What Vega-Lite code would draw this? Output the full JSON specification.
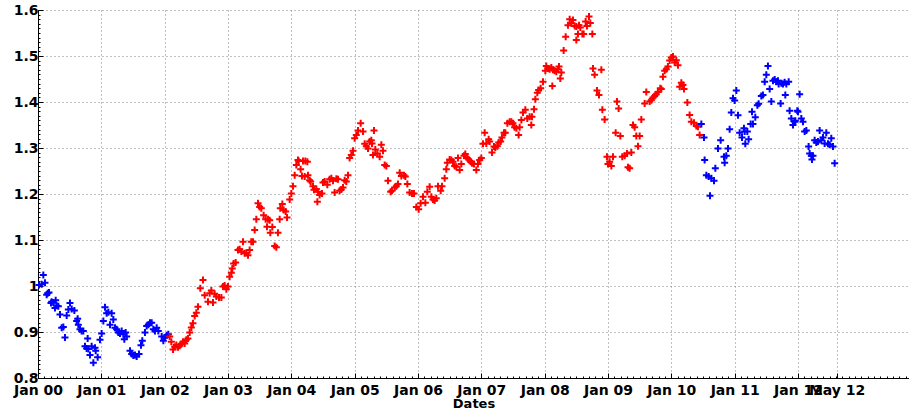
{
"$schema": "https://vega.github.io/schema/vega-lite/v6.json",
"width": 871, "height": 368,
"autosize": {"type": "none"},
"padding": {"left": 38, "top": 10, "right": 0, "bottom": 35},
"background": "white",
"config": {
  "view": {"stroke": null},
  "axis": {"domainColor": "black", "domainWidth": 1, "tickColor": "black", "tickWidth": 1,
    "labelFont": "DejaVu Sans", "labelFontWeight": "bold", "labelFontSize": 14, "labelColor": "black",
    "titleFont": "DejaVu Sans", "titleFontWeight": "bold", "titleFontSize": 13, "titleColor": "black",
    "gridColor": "#808080", "gridDash": [1, 3], "gridWidth": 1, "gridOpacity": 1}
},
"data": {"values": [
{"t":2000.016,"v":1.002,"r":"A"},{"t":2000.058,"v":1.004,"r":"A"},{"t":2000.11,"v":1.007,"r":"A"},{"t":2000.084,"v":1.024,"r":"A"},
{"t":2000.153,"v":0.984,"r":"A"},{"t":2000.174,"v":0.986,"r":"A"},{"t":2000.137,"v":0.981,"r":"A"},{"t":2000.216,"v":0.966,"r":"A"},
{"t":2000.242,"v":0.964,"r":"A"},{"t":2000.205,"v":0.963,"r":"A"},{"t":2000.279,"v":0.969,"r":"A"},{"t":2000.295,"v":0.957,"r":"A"},
{"t":2000.321,"v":0.956,"r":"A"},{"t":2000.268,"v":0.952,"r":"A"},{"t":2000.347,"v":0.938,"r":"A"},{"t":2000.374,"v":0.909,"r":"A"},
{"t":2000.4,"v":0.911,"r":"A"},{"t":2000.426,"v":0.888,"r":"A"},{"t":2000.453,"v":0.936,"r":"A"},{"t":2000.479,"v":0.949,"r":"A"},
{"t":2000.505,"v":0.963,"r":"A"},{"t":2000.532,"v":0.95,"r":"A"},{"t":2000.574,"v":0.947,"r":"A"},{"t":2000.61,"v":0.924,"r":"A"},
{"t":2000.626,"v":0.929,"r":"A"},{"t":2000.637,"v":0.916,"r":"A"},{"t":2000.663,"v":0.906,"r":"A"},{"t":2000.689,"v":0.902,"r":"A"},
{"t":2000.716,"v":0.902,"r":"A"},{"t":2000.784,"v":0.886,"r":"A"},{"t":2000.742,"v":0.869,"r":"A"},{"t":2000.768,"v":0.864,"r":"A"},
{"t":2000.795,"v":0.863,"r":"A"},{"t":2000.821,"v":0.85,"r":"A"},{"t":2000.874,"v":0.833,"r":"A"},{"t":2000.847,"v":0.869,"r":"A"},
{"t":2000.9,"v":0.866,"r":"A"},{"t":2000.911,"v":0.859,"r":"A"},{"t":2000.942,"v":0.845,"r":"A"},{"t":2000.979,"v":0.883,"r":"A"},
{"t":2001.005,"v":0.897,"r":"A"},{"t":2001.032,"v":0.924,"r":"A"},{"t":2001.058,"v":0.954,"r":"A"},{"t":2001.084,"v":0.941,"r":"A"},
{"t":2001.111,"v":0.943,"r":"A"},{"t":2001.163,"v":0.941,"r":"A"},{"t":2001.189,"v":0.927,"r":"A"},{"t":2001.137,"v":0.916,"r":"A"},
{"t":2001.216,"v":0.909,"r":"A"},{"t":2001.242,"v":0.906,"r":"A"},{"t":2001.268,"v":0.899,"r":"A"},{"t":2001.295,"v":0.897,"r":"A"},
{"t":2001.321,"v":0.902,"r":"A"},{"t":2001.347,"v":0.895,"r":"A"},{"t":2001.363,"v":0.884,"r":"A"},{"t":2001.4,"v":0.89,"r":"A"},
{"t":2001.384,"v":0.899,"r":"A"},{"t":2001.453,"v":0.859,"r":"A"},{"t":2001.479,"v":0.852,"r":"A"},{"t":2001.505,"v":0.849,"r":"A"},
{"t":2001.532,"v":0.85,"r":"A"},{"t":2001.558,"v":0.847,"r":"A"},{"t":2001.595,"v":0.852,"r":"A"},{"t":2001.626,"v":0.871,"r":"A"},
{"t":2001.647,"v":0.881,"r":"A"},{"t":2001.689,"v":0.899,"r":"A"},{"t":2001.716,"v":0.913,"r":"A"},{"t":2001.742,"v":0.916,"r":"A"},
{"t":2001.768,"v":0.92,"r":"A"},{"t":2001.795,"v":0.92,"r":"A"},{"t":2001.821,"v":0.906,"r":"A"},{"t":2001.847,"v":0.902,"r":"A"},
{"t":2001.874,"v":0.909,"r":"A"},{"t":2001.9,"v":0.902,"r":"A"},{"t":2001.953,"v":0.89,"r":"A"},{"t":2001.979,"v":0.881,"r":"A"},
{"t":2002.005,"v":0.888,"r":"A"},{"t":2002.032,"v":0.893,"r":"A"},{"t":2002.058,"v":0.895,"r":"A"},
{"t":2002.079,"v":0.89,"r":"B"},{"t":2002.105,"v":0.879,"r":"B"},{"t":2002.132,"v":0.862,"r":"B"},{"t":2002.158,"v":0.868,"r":"B"},
{"t":2002.184,"v":0.872,"r":"B"},{"t":2002.211,"v":0.867,"r":"B"},{"t":2002.237,"v":0.87,"r":"B"},{"t":2002.263,"v":0.874,"r":"B"},
{"t":2002.289,"v":0.879,"r":"B"},{"t":2002.316,"v":0.875,"r":"B"},{"t":2002.342,"v":0.883,"r":"B"},{"t":2002.368,"v":0.886,"r":"B"},
{"t":2002.395,"v":0.899,"r":"B"},{"t":2002.421,"v":0.91,"r":"B"},{"t":2002.447,"v":0.919,"r":"B"},{"t":2002.474,"v":0.935,"r":"B"},
{"t":2002.5,"v":0.942,"r":"B"},{"t":2002.526,"v":0.955,"r":"B"},{"t":2002.563,"v":0.995,"r":"B"},{"t":2002.605,"v":1.013,"r":"B"},
{"t":2002.632,"v":0.98,"r":"B"},{"t":2002.684,"v":0.966,"r":"B"},{"t":2002.711,"v":0.984,"r":"B"},{"t":2002.737,"v":0.99,"r":"B"},
{"t":2002.763,"v":0.964,"r":"B"},{"t":2002.789,"v":0.983,"r":"B"},{"t":2002.816,"v":0.977,"r":"B"},{"t":2002.858,"v":0.975,"r":"B"},
{"t":2002.895,"v":0.975,"r":"B"},{"t":2002.921,"v":0.999,"r":"B"},{"t":2002.947,"v":1.001,"r":"B"},{"t":2002.974,"v":0.993,"r":"B"},
{"t":2003.0,"v":0.999,"r":"B"},{"t":2003.026,"v":1.02,"r":"B"},{"t":2003.053,"v":1.029,"r":"B"},{"t":2003.068,"v":1.038,"r":"B"},
{"t":2003.089,"v":1.049,"r":"B"},{"t":2003.121,"v":1.051,"r":"B"},{"t":2003.158,"v":1.078,"r":"B"},{"t":2003.184,"v":1.08,"r":"B"},
{"t":2003.211,"v":1.075,"r":"B"},{"t":2003.237,"v":1.096,"r":"B"},{"t":2003.263,"v":1.071,"r":"B"},{"t":2003.289,"v":1.072,"r":"B"},
{"t":2003.316,"v":1.067,"r":"B"},{"t":2003.342,"v":1.078,"r":"B"},{"t":2003.368,"v":1.096,"r":"B"},{"t":2003.395,"v":1.096,"r":"B"},
{"t":2003.421,"v":1.122,"r":"B"},{"t":2003.447,"v":1.145,"r":"B"},{"t":2003.474,"v":1.18,"r":"B"},{"t":2003.5,"v":1.172,"r":"B"},
{"t":2003.526,"v":1.169,"r":"B"},{"t":2003.563,"v":1.154,"r":"B"},{"t":2003.595,"v":1.145,"r":"B"},{"t":2003.632,"v":1.145,"r":"B"},
{"t":2003.658,"v":1.143,"r":"B"},{"t":2003.616,"v":1.129,"r":"B"},{"t":2003.668,"v":1.116,"r":"B"},{"t":2003.7,"v":1.128,"r":"B"},
{"t":2003.737,"v":1.087,"r":"B"},{"t":2003.763,"v":1.084,"r":"B"},{"t":2003.789,"v":1.116,"r":"B"},{"t":2003.816,"v":1.145,"r":"B"},
{"t":2003.826,"v":1.169,"r":"B"},{"t":2003.858,"v":1.178,"r":"B"},{"t":2003.879,"v":1.165,"r":"B"},{"t":2003.911,"v":1.162,"r":"B"},
{"t":2003.932,"v":1.149,"r":"B"},{"t":2003.974,"v":1.188,"r":"B"},{"t":2004.0,"v":1.201,"r":"B"},{"t":2004.026,"v":1.217,"r":"B"},
{"t":2004.053,"v":1.241,"r":"B"},{"t":2004.079,"v":1.263,"r":"B"},{"t":2004.105,"v":1.274,"r":"B"},
{"t":2004.116,"v":1.272,"r":"B"},{"t":2004.147,"v":1.254,"r":"B"},{"t":2004.184,"v":1.272,"r":"B"},{"t":2004.221,"v":1.272,"r":"B"},
{"t":2004.253,"v":1.27,"r":"B"},{"t":2004.168,"v":1.239,"r":"B"},{"t":2004.211,"v":1.238,"r":"B"},{"t":2004.263,"v":1.241,"r":"B"},
{"t":2004.289,"v":1.23,"r":"B"},{"t":2004.305,"v":1.227,"r":"B"},{"t":2004.342,"v":1.217,"r":"B"},{"t":2004.358,"v":1.209,"r":"B"},
{"t":2004.395,"v":1.211,"r":"B"},{"t":2004.421,"v":1.205,"r":"B"},{"t":2004.447,"v":1.198,"r":"B"},{"t":2004.411,"v":1.183,"r":"B"},
{"t":2004.484,"v":1.201,"r":"B"},{"t":2004.5,"v":1.225,"r":"B"},{"t":2004.526,"v":1.227,"r":"B"},{"t":2004.568,"v":1.22,"r":"B"},
{"t":2004.605,"v":1.232,"r":"B"},{"t":2004.632,"v":1.234,"r":"B"},{"t":2004.658,"v":1.229,"r":"B"},{"t":2004.684,"v":1.203,"r":"B"},
{"t":2004.711,"v":1.233,"r":"B"},{"t":2004.737,"v":1.232,"r":"B"},{"t":2004.763,"v":1.207,"r":"B"},{"t":2004.789,"v":1.21,"r":"B"},
{"t":2004.816,"v":1.214,"r":"B"},{"t":2004.842,"v":1.23,"r":"B"},{"t":2004.868,"v":1.227,"r":"B"},{"t":2004.895,"v":1.241,"r":"B"},
{"t":2004.921,"v":1.278,"r":"B"},{"t":2004.947,"v":1.285,"r":"B"},{"t":2004.974,"v":1.294,"r":"B"},{"t":2005.0,"v":1.321,"r":"B"},
{"t":2005.026,"v":1.328,"r":"B"},{"t":2005.053,"v":1.338,"r":"B"},{"t":2005.095,"v":1.354,"r":"B"},{"t":2005.132,"v":1.336,"r":"B"},
{"t":2005.158,"v":1.309,"r":"B"},{"t":2005.184,"v":1.304,"r":"B"},{"t":2005.211,"v":1.299,"r":"B"},{"t":2005.237,"v":1.314,"r":"B"},
{"t":2005.263,"v":1.317,"r":"B"},{"t":2005.274,"v":1.31,"r":"B"},{"t":2005.305,"v":1.338,"r":"B"},{"t":2005.289,"v":1.285,"r":"B"},
{"t":2005.326,"v":1.297,"r":"B"},{"t":2005.358,"v":1.288,"r":"B"},{"t":2005.395,"v":1.281,"r":"B"},{"t":2005.421,"v":1.307,"r":"B"},
{"t":2005.447,"v":1.294,"r":"B"},{"t":2005.474,"v":1.263,"r":"B"},{"t":2005.5,"v":1.261,"r":"B"},{"t":2005.526,"v":1.229,"r":"B"},
{"t":2005.568,"v":1.205,"r":"B"},{"t":2005.589,"v":1.207,"r":"B"},{"t":2005.632,"v":1.214,"r":"B"},{"t":2005.658,"v":1.217,"r":"B"},
{"t":2005.684,"v":1.222,"r":"B"},{"t":2005.711,"v":1.246,"r":"B"},{"t":2005.737,"v":1.239,"r":"B"},{"t":2005.779,"v":1.241,"r":"B"},
{"t":2005.8,"v":1.238,"r":"B"},{"t":2005.832,"v":1.222,"r":"B"},{"t":2005.868,"v":1.203,"r":"B"},{"t":2005.905,"v":1.201,"r":"B"},
{"t":2005.937,"v":1.201,"r":"B"},{"t":2005.974,"v":1.172,"r":"B"},
{"t":2006.011,"v":1.167,"r":"B"},{"t":2006.042,"v":1.18,"r":"B"},{"t":2006.079,"v":1.194,"r":"B"},{"t":2006.116,"v":1.181,"r":"B"},
{"t":2006.147,"v":1.205,"r":"B"},{"t":2006.184,"v":1.216,"r":"B"},{"t":2006.211,"v":1.194,"r":"B"},{"t":2006.237,"v":1.188,"r":"B"},
{"t":2006.263,"v":1.186,"r":"B"},{"t":2006.289,"v":1.191,"r":"B"},{"t":2006.316,"v":1.217,"r":"B"},{"t":2006.358,"v":1.207,"r":"B"},
{"t":2006.379,"v":1.217,"r":"B"},{"t":2006.421,"v":1.234,"r":"B"},{"t":2006.447,"v":1.254,"r":"B"},{"t":2006.463,"v":1.268,"r":"B"},
{"t":2006.5,"v":1.275,"r":"B"},{"t":2006.526,"v":1.274,"r":"B"},{"t":2006.553,"v":1.27,"r":"B"},{"t":2006.579,"v":1.261,"r":"B"},
{"t":2006.605,"v":1.259,"r":"B"},{"t":2006.632,"v":1.278,"r":"B"},{"t":2006.658,"v":1.252,"r":"B"},{"t":2006.684,"v":1.265,"r":"B"},
{"t":2006.726,"v":1.283,"r":"B"},{"t":2006.747,"v":1.287,"r":"B"},{"t":2006.779,"v":1.278,"r":"B"},{"t":2006.8,"v":1.275,"r":"B"},
{"t":2006.832,"v":1.27,"r":"B"},{"t":2006.853,"v":1.267,"r":"B"},{"t":2006.884,"v":1.265,"r":"B"},{"t":2006.921,"v":1.252,"r":"B"},
{"t":2006.947,"v":1.265,"r":"B"},{"t":2006.974,"v":1.274,"r":"B"},{"t":2007.0,"v":1.278,"r":"B"},{"t":2007.026,"v":1.309,"r":"B"},
{"t":2007.053,"v":1.333,"r":"B"},{"t":2007.079,"v":1.31,"r":"B"},{"t":2007.116,"v":1.319,"r":"B"},{"t":2007.132,"v":1.314,"r":"B"},
{"t":2007.168,"v":1.29,"r":"B"},{"t":2007.2,"v":1.303,"r":"B"},{"t":2007.221,"v":1.301,"r":"B"},{"t":2007.253,"v":1.304,"r":"B"},
{"t":2007.274,"v":1.312,"r":"B"},{"t":2007.305,"v":1.314,"r":"B"},{"t":2007.326,"v":1.323,"r":"B"},{"t":2007.358,"v":1.333,"r":"B"},
{"t":2007.379,"v":1.333,"r":"B"},{"t":2007.411,"v":1.354,"r":"B"},{"t":2007.447,"v":1.357,"r":"B"},{"t":2007.474,"v":1.357,"r":"B"},
{"t":2007.5,"v":1.354,"r":"B"},{"t":2007.526,"v":1.345,"r":"B"},{"t":2007.553,"v":1.343,"r":"B"},{"t":2007.589,"v":1.328,"r":"B"},
{"t":2007.605,"v":1.345,"r":"B"},{"t":2007.632,"v":1.361,"r":"B"},{"t":2007.658,"v":1.377,"r":"B"},{"t":2007.695,"v":1.383,"r":"B"},
{"t":2007.726,"v":1.364,"r":"B"},{"t":2007.763,"v":1.368,"r":"B"},{"t":2007.789,"v":1.35,"r":"B"},{"t":2007.8,"v":1.368,"r":"B"},
{"t":2007.832,"v":1.384,"r":"B"},{"t":2007.853,"v":1.406,"r":"B"},{"t":2007.884,"v":1.42,"r":"B"},{"t":2007.905,"v":1.426,"r":"B"},
{"t":2007.937,"v":1.43,"r":"B"},{"t":2007.974,"v":1.444,"r":"B"},{"t":2008.011,"v":1.468,"r":"B"},
{"t":2008.026,"v":1.478,"r":"B"},{"t":2008.053,"v":1.473,"r":"B"},{"t":2008.079,"v":1.471,"r":"B"},{"t":2008.105,"v":1.475,"r":"B"},
{"t":2008.132,"v":1.47,"r":"B"},{"t":2008.158,"v":1.468,"r":"B"},{"t":2008.184,"v":1.466,"r":"B"},{"t":2008.211,"v":1.471,"r":"B"},
{"t":2008.226,"v":1.477,"r":"B"},{"t":2008.263,"v":1.464,"r":"B"},{"t":2008.247,"v":1.451,"r":"B"},{"t":2008.121,"v":1.435,"r":"B"},
{"t":2008.3,"v":1.512,"r":"B"},{"t":2008.332,"v":1.542,"r":"B"},{"t":2008.368,"v":1.567,"r":"B"},{"t":2008.395,"v":1.58,"r":"B"},
{"t":2008.421,"v":1.571,"r":"B"},{"t":2008.447,"v":1.578,"r":"B"},{"t":2008.474,"v":1.565,"r":"B"},{"t":2008.5,"v":1.564,"r":"B"},
{"t":2008.526,"v":1.548,"r":"B"},{"t":2008.542,"v":1.567,"r":"B"},{"t":2008.563,"v":1.562,"r":"B"},{"t":2008.595,"v":1.548,"r":"B"},
{"t":2008.616,"v":1.548,"r":"B"},{"t":2008.647,"v":1.575,"r":"B"},{"t":2008.668,"v":1.565,"r":"B"},{"t":2008.7,"v":1.586,"r":"B"},
{"t":2008.721,"v":1.572,"r":"B"},{"t":2008.753,"v":1.548,"r":"B"},{"t":2008.5,"v":1.535,"r":"B"},{"t":2008.763,"v":1.473,"r":"B"},
{"t":2008.789,"v":1.459,"r":"B"},{"t":2008.895,"v":1.47,"r":"B"},{"t":2008.826,"v":1.425,"r":"B"},{"t":2008.858,"v":1.415,"r":"B"},
{"t":2008.911,"v":1.383,"r":"B"},{"t":2008.947,"v":1.362,"r":"B"},{"t":2008.984,"v":1.281,"r":"B"},{"t":2009.0,"v":1.265,"r":"B"},
{"t":2009.026,"v":1.27,"r":"B"},{"t":2009.053,"v":1.261,"r":"B"},{"t":2009.079,"v":1.281,"r":"B"},{"t":2009.142,"v":1.401,"r":"B"},
{"t":2009.168,"v":1.386,"r":"B"},{"t":2009.121,"v":1.333,"r":"B"},{"t":2009.195,"v":1.326,"r":"B"},{"t":2009.226,"v":1.281,"r":"B"},
{"t":2009.263,"v":1.283,"r":"B"},{"t":2009.3,"v":1.288,"r":"B"},{"t":2009.316,"v":1.258,"r":"B"},{"t":2009.342,"v":1.256,"r":"B"},
{"t":2009.368,"v":1.29,"r":"B"},{"t":2009.474,"v":1.304,"r":"B"},{"t":2009.447,"v":1.326,"r":"B"},{"t":2009.5,"v":1.326,"r":"B"},
{"t":2009.421,"v":1.345,"r":"B"},{"t":2009.395,"v":1.35,"r":"B"},{"t":2009.526,"v":1.362,"r":"B"},{"t":2009.579,"v":1.397,"r":"B"},
{"t":2009.605,"v":1.422,"r":"B"},{"t":2009.658,"v":1.401,"r":"B"},{"t":2009.684,"v":1.404,"r":"B"},{"t":2009.711,"v":1.41,"r":"B"},
{"t":2009.737,"v":1.413,"r":"B"},{"t":2009.763,"v":1.417,"r":"B"},{"t":2009.789,"v":1.422,"r":"B"},{"t":2009.826,"v":1.43,"r":"B"},
{"t":2009.842,"v":1.428,"r":"B"},{"t":2009.868,"v":1.455,"r":"B"},{"t":2009.895,"v":1.468,"r":"B"},{"t":2009.921,"v":1.471,"r":"B"},
{"t":2009.947,"v":1.477,"r":"B"},{"t":2009.974,"v":1.49,"r":"B"},{"t":2010.0,"v":1.497,"r":"B"},{"t":2010.026,"v":1.499,"r":"B"},
{"t":2010.053,"v":1.486,"r":"B"},{"t":2010.079,"v":1.491,"r":"B"},{"t":2010.105,"v":1.48,"r":"B"},
{"t":2010.158,"v":1.442,"r":"B"},{"t":2010.184,"v":1.437,"r":"B"},{"t":2010.132,"v":1.433,"r":"B"},{"t":2010.2,"v":1.428,"r":"B"},
{"t":2010.253,"v":1.399,"r":"B"},{"t":2010.289,"v":1.372,"r":"B"},{"t":2010.316,"v":1.357,"r":"B"},{"t":2010.358,"v":1.355,"r":"B"},
{"t":2010.395,"v":1.348,"r":"B"},{"t":2010.421,"v":1.346,"r":"B"},{"t":2010.447,"v":1.328,"r":"B"},
{"t":2010.474,"v":1.352,"r":"A"},{"t":2010.516,"v":1.323,"r":"A"},{"t":2010.526,"v":1.274,"r":"A"},{"t":2010.553,"v":1.241,"r":"A"},
{"t":2010.589,"v":1.238,"r":"A"},{"t":2010.632,"v":1.234,"r":"A"},{"t":2010.674,"v":1.229,"r":"A"},{"t":2010.611,"v":1.196,"r":"A"},
{"t":2010.695,"v":1.256,"r":"A"},{"t":2010.737,"v":1.299,"r":"A"},{"t":2010.779,"v":1.317,"r":"A"},{"t":2010.832,"v":1.281,"r":"A"},
{"t":2010.842,"v":1.268,"r":"A"},{"t":2010.868,"v":1.283,"r":"A"},{"t":2010.895,"v":1.299,"r":"A"},{"t":2010.921,"v":1.341,"r":"A"},
{"t":2010.947,"v":1.377,"r":"A"},{"t":2010.974,"v":1.408,"r":"A"},{"t":2011.0,"v":1.403,"r":"A"},{"t":2011.026,"v":1.425,"r":"A"},
{"t":2011.053,"v":1.371,"r":"A"},{"t":2011.079,"v":1.333,"r":"A"},{"t":2011.116,"v":1.323,"r":"A"},{"t":2011.147,"v":1.343,"r":"A"},
{"t":2011.158,"v":1.336,"r":"A"},{"t":2011.2,"v":1.336,"r":"A"},{"t":2011.221,"v":1.319,"r":"A"},{"t":2011.168,"v":1.309,"r":"A"},
{"t":2011.253,"v":1.352,"r":"A"},{"t":2011.289,"v":1.352,"r":"A"},{"t":2011.274,"v":1.379,"r":"A"},{"t":2011.326,"v":1.367,"r":"A"},
{"t":2011.358,"v":1.393,"r":"A"},{"t":2011.379,"v":1.396,"r":"A"},{"t":2011.421,"v":1.413,"r":"A"},{"t":2011.447,"v":1.415,"r":"A"},
{"t":2011.474,"v":1.444,"r":"A"},{"t":2011.5,"v":1.459,"r":"A"},{"t":2011.526,"v":1.478,"r":"A"},{"t":2011.553,"v":1.428,"r":"A"},
{"t":2011.579,"v":1.401,"r":"A"},{"t":2011.605,"v":1.446,"r":"A"},{"t":2011.632,"v":1.449,"r":"A"},{"t":2011.658,"v":1.444,"r":"A"},
{"t":2011.684,"v":1.446,"r":"A"},{"t":2011.695,"v":1.439,"r":"A"},{"t":2011.737,"v":1.441,"r":"A"},{"t":2011.763,"v":1.439,"r":"A"},
{"t":2011.789,"v":1.443,"r":"A"},{"t":2011.816,"v":1.439,"r":"A"},{"t":2011.853,"v":1.444,"r":"A"},{"t":2011.726,"v":1.397,"r":"A"},
{"t":2011.8,"v":1.415,"r":"A"},{"t":2011.868,"v":1.381,"r":"A"},{"t":2011.895,"v":1.364,"r":"A"},{"t":2011.921,"v":1.35,"r":"A"},
{"t":2011.947,"v":1.357,"r":"A"},{"t":2011.958,"v":1.359,"r":"A"},{"t":2011.989,"v":1.381,"r":"A"},{"t":2012.0,"v":1.379,"r":"A"},
{"t":2012.026,"v":1.417,"r":"A"},{"t":2012.053,"v":1.364,"r":"A"},{"t":2012.079,"v":1.357,"r":"A"},{"t":2012.105,"v":1.336,"r":"A"},
{"t":2012.132,"v":1.338,"r":"A"},{"t":2012.168,"v":1.303,"r":"A"},{"t":2012.184,"v":1.288,"r":"A"},{"t":2012.211,"v":1.283,"r":"A"},
{"t":2012.237,"v":1.283,"r":"A"},{"t":2012.221,"v":1.275,"r":"A"},{"t":2012.263,"v":1.317,"r":"A"},{"t":2012.289,"v":1.312,"r":"A"},
{"t":2012.316,"v":1.314,"r":"A"},{"t":2012.342,"v":1.338,"r":"A"},{"t":2012.368,"v":1.317,"r":"A"},{"t":2012.395,"v":1.323,"r":"A"},
{"t":2012.421,"v":1.31,"r":"A"},{"t":2012.447,"v":1.333,"r":"A"},{"t":2012.474,"v":1.309,"r":"A"},{"t":2012.5,"v":1.307,"r":"A"},
{"t":2012.526,"v":1.321,"r":"A"},{"t":2012.553,"v":1.303,"r":"A"},{"t":2012.579,"v":1.267,"r":"A"}
]},
"layer": [
  {
    "mark": {"type": "point", "shape": "M-1,0H1M0,-1V1", "size": 49, "filled": false, "strokeWidth": 2, "opacity": 1},
    "encoding": {
      "x": {"field": "t", "type": "quantitative",
        "scale": {"domain": [2000, 2013.753], "nice": false, "zero": false},
        "axis": {"orient": "bottom", "values": [2000,2001,2002,2003,2004,2005,2006,2007,2008,2009,2010,2011,2012,2012.61],
          "labelExpr": "datum.value > 2012.5 ? 'May 12' : 'Jan ' + (datum.value < 2010 ? '0' : '') + format(datum.value - 2000, 'd')",
          "grid": true, "tickSize": -5, "labelPadding": 10, "labelFlush": false, "labelOverlap": false,
          "title": "Dates", "titlePadding": 0}},
      "y": {"field": "v", "type": "quantitative",
        "scale": {"domain": [0.8, 1.6], "nice": false, "zero": false},
        "axis": {"orient": "left", "values": [0.8,0.9,1.0,1.1,1.2,1.3,1.4,1.5,1.6], "format": "~g",
          "grid": true, "tickSize": -5, "labelPadding": 5, "labelFlush": false, "labelOverlap": false, "title": null}},
      "color": {"field": "r", "type": "nominal", "scale": {"domain": ["A", "B"], "range": ["#0000ff", "#ff0000"]}, "legend": null}
    }
  },
  {
    "mark": {"type": "point", "opacity": 0},
    "encoding": {
      "x": {"field": "t", "type": "quantitative",
        "scale": {"domain": [2000, 2013.753], "nice": false, "zero": false},
        "axis": {"orient": "bottom", "tickCount": 140, "labels": false, "grid": false, "domain": false, "tickSize": -2, "title": null}},
      "y": {"field": "v", "type": "quantitative",
        "scale": {"domain": [0.8, 1.6], "nice": false, "zero": false},
        "axis": {"orient": "left", "tickCount": 80, "labels": false, "grid": false, "domain": false, "tickSize": -2, "title": null}}
    }
  }
],
"resolve": {"axis": {"x": "independent", "y": "independent"}}
}
